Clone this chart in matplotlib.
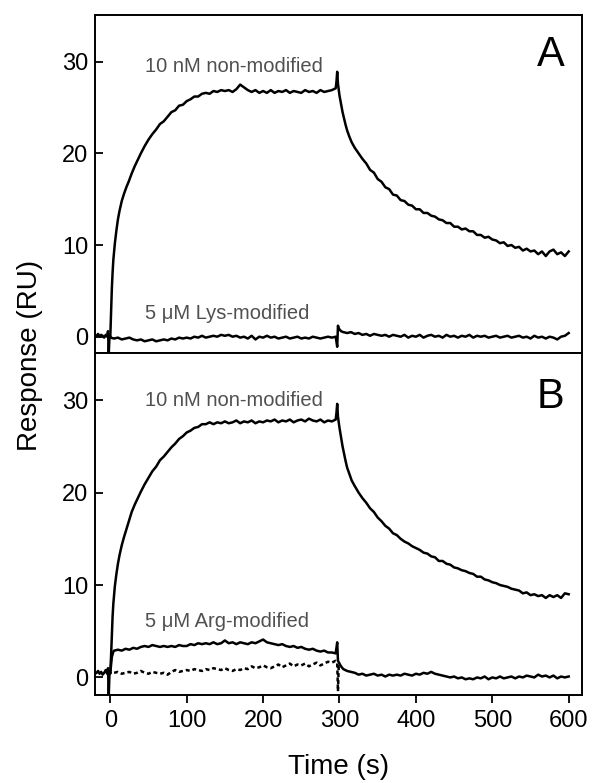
import numpy as np
import matplotlib.pyplot as plt

plt.rcParams['font.family'] = ['Liberation Sans', 'DejaVu Sans']

# ---- data ----
t_pre = [-18, -16, -14, -12, -10, -8, -6, -4, -3, -2, -1, 0]
pre_A = [0.1, 0.3, 0.0, 0.2, 0.1, -0.1, 0.2, 0.0, 0.6, -1.8, 0.2, 0.0]
pre_B = [0.5, 0.7, 0.4, 0.6, 0.3, 0.5, 0.8, 0.4, 1.0, -1.9, 0.6, 0.5]

t_rise = [0, 1, 2, 3, 4, 6, 8, 10, 12, 15, 18, 21, 24, 28, 32, 36, 40, 45]
t_plat = np.arange(50, 296, 5)
t_spike = [296, 297, 298, 300, 302, 304, 306, 308, 310, 313, 316]
t_decay = np.arange(320, 601, 5)

nonmodA_rise = [0.0, 2.6, 5.2, 7.0, 8.4, 10.2, 11.6, 12.8, 13.7, 14.8, 15.6, 16.3,
                16.9, 17.8, 18.6, 19.3, 20.0, 20.8]
nonmodA_plat = [21.5, 22.1, 22.6, 23.2, 23.5, 24.0, 24.5, 24.7, 25.2, 25.3,
                25.7, 25.9, 26.2, 26.2, 26.5, 26.6, 26.5, 26.8, 26.7, 26.9,
                26.8, 26.9, 26.7, 27.0, 27.5, 27.2, 26.9, 26.7, 26.9, 26.6,
                26.8, 26.6, 26.9, 26.6, 26.8, 26.7, 26.9, 26.6, 26.8, 26.7,
                26.6, 26.9, 26.7, 26.8, 26.6, 26.9, 26.7, 26.8, 26.9, 27.1]
nonmodA_spike = [27.8, 28.9, 27.6, 26.3, 25.4, 24.5, 23.8, 23.1, 22.5, 21.8, 21.2]
nonmodA_decay = [20.6, 20.0, 19.4, 18.9, 18.2, 17.9, 17.2, 16.9, 16.3, 16.1,
                 15.5, 15.4, 14.9, 14.8, 14.4, 14.3, 13.9, 13.9, 13.5, 13.5,
                 13.2, 13.1, 12.8, 12.7, 12.4, 12.4, 12.0, 12.0, 11.7, 11.8,
                 11.5, 11.5, 11.1, 11.1, 10.8, 10.9, 10.6, 10.5, 10.2, 10.3,
                 9.9, 10.0, 9.7, 9.8, 9.4, 9.6, 9.3, 9.4, 9.0, 9.3,
                 8.8, 9.3, 9.5, 9.0, 9.2, 8.8, 9.3]

nonmodB_rise = [0.5, 2.3, 4.6, 6.6, 8.0, 9.9, 11.2, 12.3, 13.2, 14.3, 15.2, 16.0,
                16.8, 17.9, 18.7, 19.4, 20.1, 20.9]
nonmodB_plat = [21.6, 22.3, 22.8, 23.5, 23.9, 24.4, 24.9, 25.3, 25.8, 26.1,
                26.5, 26.7, 27.0, 27.1, 27.4, 27.4, 27.6, 27.4, 27.6, 27.5,
                27.7, 27.5, 27.6, 27.8, 27.5, 27.7, 27.6, 27.8, 27.5, 27.7,
                27.6, 27.8, 27.7, 27.9, 27.6, 27.8, 27.7, 27.9, 27.6, 27.8,
                27.9, 27.7, 28.0, 27.8, 27.7, 27.9, 27.6, 27.8, 27.7, 27.9]
nonmodB_spike = [28.6, 29.6, 28.2, 27.0, 26.0, 25.0, 24.2, 23.4, 22.7, 22.0, 21.3]
nonmodB_decay = [20.7, 20.0, 19.4, 18.9, 18.3, 17.9, 17.3, 16.9, 16.4, 16.1,
                 15.6, 15.4, 15.0, 14.7, 14.5, 14.2, 14.0, 13.8, 13.5, 13.4,
                 13.1, 13.0, 12.6, 12.6, 12.3, 12.2, 11.9, 11.8, 11.6, 11.5,
                 11.3, 11.2, 10.9, 10.9, 10.6, 10.5, 10.3, 10.2, 10.0, 9.9,
                 9.8, 9.6, 9.5, 9.4, 9.1, 9.2, 8.9, 9.0, 8.8, 8.9,
                 8.6, 8.9, 8.7, 8.9, 8.6, 9.1, 9.0]

t_low1 = np.arange(0, 296, 5)
t_low_spike = [297, 298, 299, 302]
t_low2 = np.arange(305, 601, 5)
lys_1 = [-0.1, -0.2, -0.1, -0.3, -0.2, -0.1, -0.3, -0.4, -0.3, -0.5,
         -0.4, -0.3, -0.5, -0.4, -0.3, -0.4, -0.2, -0.3, -0.1, -0.2,
         -0.1, -0.2, 0.0, -0.1, 0.1, -0.1, 0.0, 0.1, 0.0, 0.2,
         0.1, 0.2, 0.0, 0.1, -0.1, 0.0, -0.2, 0.1, -0.3, 0.0,
         -0.1, 0.1, -0.1, 0.0, -0.2, -0.1, 0.0, -0.2, -0.1, 0.0,
         -0.2, -0.1, -0.2, 0.0, -0.1, -0.2, -0.1, 0.0, -0.1, 0.0]
lys_spike = [-1.1, 1.2, 0.9, 0.6]
lys_2 = [0.5, 0.4, 0.5, 0.3, 0.4, 0.2, 0.3, 0.1, 0.3, 0.2,
         0.1, 0.2, 0.0, 0.2, 0.1, 0.0, 0.2, -0.1, 0.1, 0.0,
         0.2, -0.1, 0.1, 0.2, 0.0, 0.1, -0.1, 0.2, 0.0, 0.1,
         -0.1, 0.1, 0.0, 0.2, -0.1, 0.1, 0.0, 0.1, -0.1, 0.0,
         0.1, -0.1, 0.0, 0.1, -0.1, 0.0, 0.1, -0.1, 0.0, -0.2,
         0.1, -0.1, 0.0, -0.2, 0.0, -0.1, -0.3, 0.0, 0.1, 0.4]

t_arg0 = [0, 2, 4]
t_arg1 = np.arange(5, 296, 5)
t_arg_spike = [297, 298, 300, 302]
arg_0 = [0.5, 2.2, 2.8]
arg_1 = [2.9, 3.0, 2.9, 3.1, 3.0, 3.2, 3.1, 3.3, 3.4, 3.3,
         3.5, 3.4, 3.3, 3.4, 3.3, 3.4, 3.3, 3.5, 3.4, 3.4,
         3.6, 3.5, 3.7, 3.6, 3.7, 3.6, 3.8, 3.6, 3.7, 4.0,
         3.7, 3.8, 3.6, 3.8, 3.7, 3.6, 3.8, 3.7, 3.9, 4.1,
         3.8, 3.7, 3.6, 3.5, 3.6, 3.4, 3.3, 3.4, 3.2, 3.3,
         3.1, 3.0, 3.1, 2.9, 2.8, 2.9, 2.7, 2.7, 2.6]
arg_spike = [3.8, 1.8, 1.5, 1.2]
arg_2 = [0.9, 0.7, 0.6, 0.5, 0.3, 0.4, 0.2, 0.3, 0.4, 0.2,
         0.3, 0.1, 0.3, 0.2, 0.3, 0.2, 0.4, 0.3, 0.2, 0.4,
         0.3, 0.5, 0.4, 0.6, 0.4, 0.3, 0.2, 0.1, 0.0, 0.1,
         -0.1, 0.0, -0.2, -0.1, -0.2, 0.0, -0.1, 0.1, -0.2, 0.0,
         -0.1, 0.1, -0.1, 0.0, 0.1, -0.1, 0.1, 0.0, 0.2, 0.1,
         0.0, 0.3, 0.1, 0.2, 0.0, 0.2, -0.1, 0.1, 0.0, 0.1]

t_dash_spike = [297, 298, 299, 300]
dash_1 = [0.5, 0.6, 0.4, 0.5, 0.6, 0.4, 0.5, 0.7, 0.5, 0.4,
          0.6, 0.5, 0.4, 0.5, 0.3, 0.6, 0.8, 0.6, 0.7, 0.8,
          0.7, 0.9, 0.8, 0.7, 0.9, 0.8, 1.0, 0.9, 0.8, 1.0,
          0.8, 0.7, 0.9, 0.8, 1.0, 0.9, 1.2, 1.0, 1.1, 1.3,
          1.1, 1.0, 1.2, 1.4, 1.1, 1.3, 1.5, 1.2, 1.4, 1.3,
          1.5, 1.2, 1.4, 1.6, 1.3, 1.5, 1.7, 1.6, 1.8]
dash_spike = [1.6, -1.5, 1.2, 1.0]

# ---- assemble series ----
t_nonmod = np.concatenate([t_rise, t_plat, t_spike, t_decay])
nonmodA = np.concatenate([nonmodA_rise, nonmodA_plat, nonmodA_spike, nonmodA_decay])
nonmodB = np.concatenate([nonmodB_rise, nonmodB_plat, nonmodB_spike, nonmodB_decay])
t_lys = np.concatenate([t_low1, t_low_spike, t_low2])
lys = np.concatenate([lys_1, lys_spike, lys_2])
t_arg = np.concatenate([t_arg0, t_arg1, t_arg_spike, t_low2])
arg = np.concatenate([arg_0, arg_1, arg_spike, arg_2])
t_dash = np.concatenate([t_arg1, t_dash_spike])
dash = np.concatenate([dash_1, dash_spike])

fig = plt.figure(figsize=(5.92, 7.83), dpi=100)
ax1 = fig.add_axes([0.1605, 0.5488, 0.8226, 0.432])
ax2 = fig.add_axes([0.1605, 0.1124, 0.8226, 0.4364])

lw = 1.8
gray = '#505050'

ax1.plot(t_pre, pre_A, color='black', lw=lw)
ax1.plot(t_nonmod, nonmodA, color='black', lw=lw)
ax1.plot(t_lys, lys, color='black', lw=lw)
ax1.set_ylim(-1.81, 35.09)

ax2.plot(t_pre, pre_B, color='black', lw=lw)
ax2.plot(t_nonmod, nonmodB, color='black', lw=lw)
ax2.plot(t_arg, arg, color='black', lw=lw)
ax2.plot(t_dash, dash, color='black', lw=lw, linestyle=(0, (1.6, 1.2)))
ax2.set_ylim(-1.9, 35.07)

for ax in (ax1, ax2):
    ax.set_xlim(-20, 617.4)
    ax.set_yticks([0, 10, 20, 30])
    ax.tick_params(axis='y', direction='in', length=6, width=1.3, labelsize=17, pad=5)
    for s in ax.spines.values():
        s.set_linewidth(1.4)

ax1.tick_params(axis='x', bottom=False, labelbottom=False)
ax2.set_xticks([0, 100, 200, 300, 400, 500, 600])
ax2.tick_params(axis='x', direction='out', length=6, width=1.3, labelsize=17, pad=5)
ax2.set_xlabel('Time (s)', fontsize=20, labelpad=16)

ax1.text(46, 29.45, '10 nM non-modified', fontsize=14.5, color=gray, ha='left', va='center')
ax1.text(46, 2.55, '5 μM Lys-modified', fontsize=14.5, color=gray, ha='left', va='center')
ax1.text(576, 30.7, 'A', fontsize=30, ha='center', va='center')

ax2.text(46, 30.0, '10 nM non-modified', fontsize=14.5, color=gray, ha='left', va='center')
ax2.text(46, 6.1, '5 μM Arg-modified', fontsize=14.5, color=gray, ha='left', va='center')
ax2.text(576, 30.3, 'B', fontsize=30, ha='center', va='center')

fig.text(0.0507, 0.5466, 'Response (RU)', fontsize=20, rotation=90, ha='center', va='center')

fig.savefig('out.png', dpi=100)
